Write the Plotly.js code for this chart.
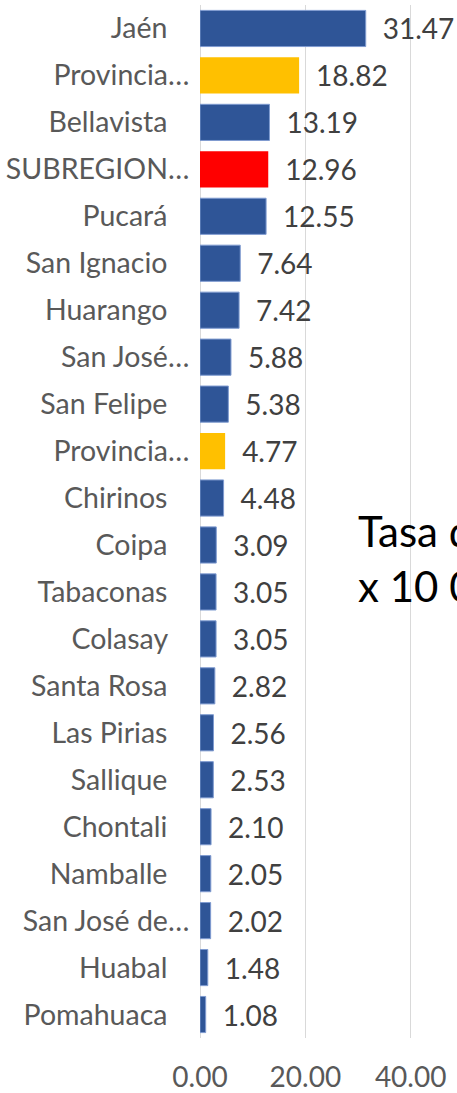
<!DOCTYPE html>
<html>
<head>
<meta charset="utf-8">
<script src="https://cdn.plot.ly/plotly-3.0.1.min.js"></script>
<style>
  html, body { margin: 0; padding: 0; overflow: hidden; background: #ffffff; }
  #chart { width: 457px; height: 1093px; }
</style>
</head>
<body>
<div id="chart"></div>
<script>
// ---- data ----
const categories = [
  "Jaén", "Provincia…", "Bellavista", "SUBREGION…", "Pucará", "San Ignacio",
  "Huarango", "San José…", "San Felipe", "Provincia…", "Chirinos", "Coipa",
  "Tabaconas", "Colasay", "Santa Rosa", "Las Pirias", "Sallique", "Chontali",
  "Namballe", "San José de…", "Huabal", "Pomahuaca"
];
const rates = [
  31.47, 18.82, 13.19, 12.96, 12.55, 7.64,
  7.42, 5.88, 5.38, 4.77, 4.48, 3.09,
  3.05, 3.05, 2.82, 2.56, 2.53, 2.10,
  2.05, 2.02, 1.48, 1.08
];
const kinds = [
  "district", "province", "district", "subregion", "district", "district",
  "district", "district", "district", "province", "district", "district",
  "district", "district", "district", "district", "district", "district",
  "district", "district", "district", "district"
];
const xTickVals = [0, 20, 40];
const xTickText = ["0.00", "20.00", "40.00"];
const noteLines = ["Tasa de incidencia", "x 10 000 hab."];

// ---- styles ----
const kindColor = { district: "#2F5597", province: "#FFC000", subregion: "#FF0000" };
const kindEdge = { district: "#7f9bd0", province: "rgba(0,0,0,0)", subregion: "rgba(0,0,0,0)" };
const FONT = "Lato, 'Open Sans', sans-serif";

const positions = categories.map((_, i) => i);
const pad = "\u00A0\u00A0\u00A0";
const tickLabels = categories.map(c => c.endsWith("…") ? c : c + pad);

const trace = {
  type: "bar",
  orientation: "h",
  y: positions,
  x: rates,
  marker: {
    color: kinds.map(k => kindColor[k]),
    line: { color: kinds.map(k => kindEdge[k]), width: 1 }
  },
  texttemplate: "\u2002%{x:.2f}",
  textposition: "outside",
  textfont: { family: FONT, size: 28, color: "#404040" },
  constraintext: "none",
  cliponaxis: false,
  hoverinfo: "skip"
};

const layout = {
  width: 457,
  height: 1093,
  margin: { l: 200, r: 0, t: 5, b: 55 },
  paper_bgcolor: "#ffffff",
  plot_bgcolor: "#ffffff",
  showlegend: false,
  bargap: 0.23,
  font: { family: FONT, color: "#595959" },
  xaxis: {
    range: [0, 48.8],
    tickvals: xTickVals,
    ticktext: xTickText,
    showgrid: true,
    gridcolor: "#d9d9d9",
    gridwidth: 1,
    zeroline: true,
    zerolinecolor: "#d9d9d9",
    zerolinewidth: 1,
    showline: false,
    ticks: "outside",
    ticklen: 14,
    tickcolor: "rgba(0,0,0,0)",
    tickfont: { family: FONT, size: 28, color: "#595959" },
    fixedrange: true
  },
  yaxis: {
    autorange: "reversed",
    tickvals: positions,
    ticktext: tickLabels,
    showgrid: false,
    zeroline: false,
    showline: false,
    ticks: "outside",
    ticklen: 4,
    tickcolor: "rgba(0,0,0,0)",
    tickfont: { family: FONT, size: 28.5, color: "#595959" },
    fixedrange: true
  },
  annotations: [{
    xref: "x",
    yref: "paper",
    x: 29.6,
    y: 0.464,
    xanchor: "left",
    yanchor: "middle",
    align: "left",
    showarrow: false,
    text: noteLines.join("<br>"),
    font: { family: FONT, size: 42, color: "#000000" }
  }]
};

Plotly.newPlot("chart", [trace], layout, { displayModeBar: false, staticPlot: true });
</script>
</body>
</html>
